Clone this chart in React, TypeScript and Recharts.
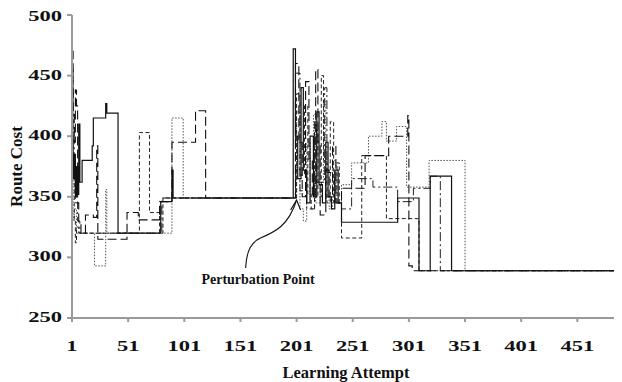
import React from "react";
import { LineChart, Line, XAxis, YAxis, ReferenceDot } from "recharts";

// Route cost per learning attempt, read off the figure as change points
// [attempt, cost]; each series holds its value until the next change.
const solidRun: [number, number][] = [
  [1, 400], [2, 365], [3, 385], [4, 350], [5, 375], [6, 352], [7, 410], [8, 362],
  [10, 380], [19, 392], [20, 415], [31, 427], [32, 419], [42, 320], [80, 346],
  [90, 372], [91, 349], [198, 472], [200, 400], [202, 365], [205, 440], [207, 372],
  [210, 345], [213, 400], [216, 350], [219, 420], [221, 360], [224, 345], [227, 395],
  [229, 350], [232, 340], [235, 372], [238, 345], [241, 329], [291, 349], [310, 289],
  [320, 367], [339, 289], [489, 289],
];

const longDashRun: [number, number][] = [
  [1, 470], [2, 420], [3, 395], [4, 438], [5, 425], [6, 345], [7, 328], [9, 320],
  [13, 335], [20, 333], [23, 392], [24, 315], [50, 337], [60, 331], [79, 346],
  [90, 395], [111, 421], [120, 349], [200, 460], [203, 395], [206, 350], [209, 445],
  [212, 380], [215, 350], [218, 455], [220, 395], [222, 335], [227, 372], [230, 350],
  [233, 392], [236, 345], [241, 357], [262, 384], [283, 400], [300, 417], [301, 293],
  [304, 289], [489, 289],
];

const shortDashRun: [number, number][] = [
  [1, 440], [2, 385], [3, 330], [4, 312], [5, 325], [7, 320], [61, 403], [70, 337],
  [79, 320], [82, 349], [201, 435], [204, 368], [208, 425], [211, 352], [214, 340],
  [217, 405], [220, 350], [223, 450], [225, 380], [228, 345], [231, 412], [234, 345],
  [237, 378], [239, 345], [241, 316], [259, 384], [281, 332], [310, 289], [489, 289],
];

const dottedRun: [number, number][] = [
  [1, 385], [2, 330], [3, 340], [5, 320], [21, 293], [31, 356], [32, 320], [90, 415],
  [100, 349], [201, 420], [204, 340], [207, 330], [210, 395], [213, 350], [216, 418],
  [218, 345], [222, 362], [225, 430], [227, 350], [230, 340], [233, 380], [236, 345],
  [241, 360], [250, 378], [265, 400], [277, 412], [281, 396], [290, 408], [299, 358],
  [319, 380], [351, 289], [489, 289],
];

const dashDotRun: [number, number][] = [
  [1, 455], [2, 400], [3, 372], [4, 345], [6, 330], [8, 320], [81, 349], [200, 452],
  [204, 355], [210, 340], [217, 412], [219, 362], [226, 440], [228, 370], [235, 345],
  [241, 340], [250, 365], [269, 358], [291, 346], [305, 357], [320, 367], [329, 289],
  [489, 289],
];

const xTicks = [1, 51, 101, 151, 201, 251, 301, 351, 401, 451];
const yTicks = [250, 300, 350, 400, 450, 500];
const perturbation = { x: 201, y: 349, label: "Perturbation Point" };

const toPoints = (run: [number, number][]) => run.map(([x, y]) => ({ x, y }));

const font = "'Liberation Serif', 'Times New Roman', serif";
const axisGrey = "#9a9a9a";

// the figure's tick numbers are drawn wide, so stretch them sideways
function WideTick(props: any) {
  const { x, y, payload, textAnchor, orientation } = props;
  const anchor = textAnchor || "middle";
  const dy = orientation === "bottom" ? 11 : 4;
  return (
    <g transform={`translate(${x},${y})`}>
      <text
        transform="scale(1.5,1)"
        textAnchor={anchor}
        dy={dy}
        fontFamily={font}
        fontWeight={700}
        fontSize={15}
        fill="#111"
      >
        {payload.value}
      </text>
    </g>
  );
}

// curved arrow from the label up to the perturbation point on the line
function PerturbationMark(props: any) {
  const { cx, cy } = props;
  if (cx == null || cy == null) return null;
  return (
    <g>
      <path
        d={`M ${cx - 51} ${cy + 70} C ${cx - 50} ${cy + 52}, ${cx - 45} ${cy + 44}, ${cx - 36} ${cy + 40} C ${cx - 22} ${cy + 34}, ${cx - 8} ${cy + 28}, ${cx} ${cy + 2}`}
        fill="none"
        stroke="#111"
        strokeWidth={1.1}
      />
      <path
        d={`M ${cx - 6} ${cy + 12} L ${cx} ${cy + 2} L ${cx + 4} ${cy + 12}`}
        fill="none"
        stroke="#111"
        strokeWidth={1.1}
      />
      <text
        x={cx + 18}
        y={cy + 86}
        textAnchor="end"
        fontFamily={font}
        fontWeight={700}
        fontSize={14}
        fill="#111"
      >
        {perturbation.label}
      </text>
    </g>
  );
}

export default function App() {
  return (
    <LineChart width={614} height={374} margin={{ top: 7, right: 2, bottom: 0, left: 0 }}>
      <XAxis
        type="number"
        dataKey="x"
        domain={[1, 489]}
        ticks={xTicks}
        allowDuplicatedCategory={false}
        stroke={axisGrey}
        strokeWidth={2}
        tickSize={4}
        tickMargin={18}
        tick={<WideTick />}
        height={64}
        label={{
          value: "Learning Attempt",
          position: "insideBottom",
          offset: 4,
          style: { fill: "#111", fontSize: 16.5, fontWeight: 700, fontFamily: font },
        }}
      />
      <YAxis
        type="number"
        domain={[250, 500]}
        ticks={yTicks}
        stroke={axisGrey}
        strokeWidth={2}
        tickSize={5}
        tickMargin={5}
        tick={<WideTick />}
        width={64}
        label={{
          value: "Route Cost",
          angle: -90,
          position: "insideLeft",
          offset: 8,
          style: { textAnchor: "middle", fill: "#111", fontSize: 17, fontWeight: 700, fontFamily: font },
        }}
      />
      <Line data={toPoints(dottedRun)} dataKey="y" type="stepAfter" stroke="#555" strokeWidth={1}
        strokeDasharray="1.5 1.5" dot={false} isAnimationActive={false} />
      <Line data={toPoints(dashDotRun)} dataKey="y" type="stepAfter" stroke="#222" strokeWidth={1}
        strokeDasharray="9 3 2 3" dot={false} isAnimationActive={false} />
      <Line data={toPoints(shortDashRun)} dataKey="y" type="stepAfter" stroke="#222" strokeWidth={1}
        strokeDasharray="4 2.5" dot={false} isAnimationActive={false} />
      <Line data={toPoints(longDashRun)} dataKey="y" type="stepAfter" stroke="#111" strokeWidth={1.1}
        strokeDasharray="9 4" dot={false} isAnimationActive={false} />
      <Line data={toPoints(solidRun)} dataKey="y" type="stepAfter" stroke="#111" strokeWidth={1.2}
        dot={false} isAnimationActive={false} />
      <ReferenceDot x={perturbation.x} y={perturbation.y} r={0} shape={PerturbationMark} />
    </LineChart>
  );
}
